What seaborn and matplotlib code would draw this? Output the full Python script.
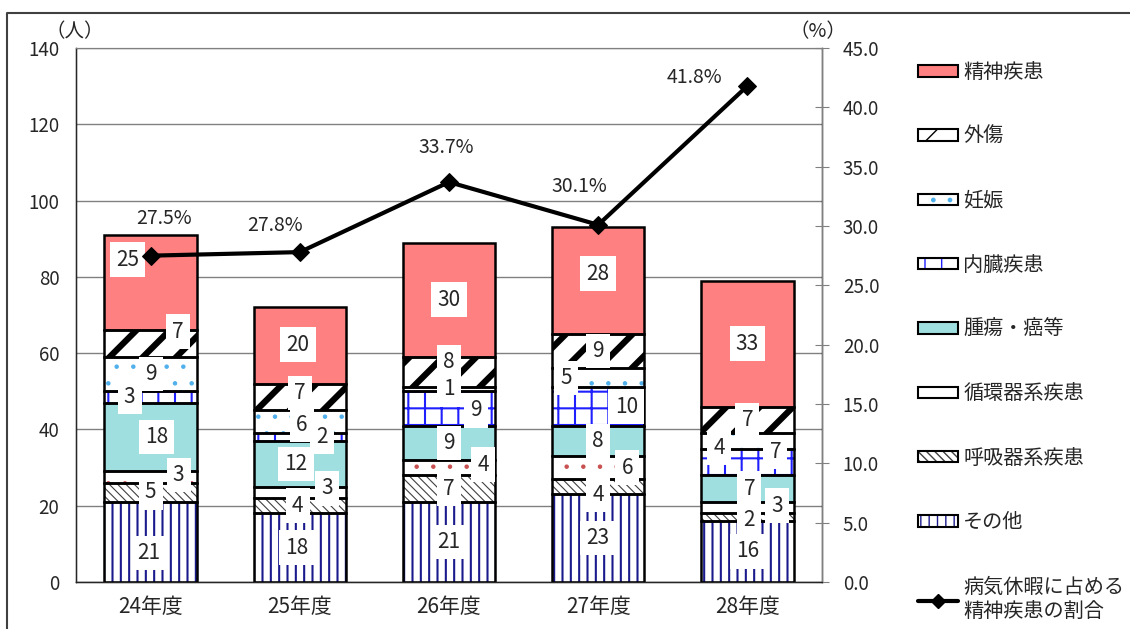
import numpy as np
import matplotlib
matplotlib.use('Agg')
import matplotlib.pyplot as plt
from matplotlib.patches import Patch
from matplotlib.lines import Line2D
from matplotlib.legend_handler import HandlerTuple
import seaborn as sns

# data, segments listed bottom to top
years = ['24年度', '25年度', '26年度', '27年度', '28年度']
categories = ['その他', '呼吸器系疾患', '循環器系疾患', '腫瘍・癌等', '内臓疾患', '妊娠', '外傷', '精神疾患']
sonota = [21, 18, 21, 23, 16]
kokyuki = [5, 4, 7, 4, 2]
junkanki = [3, 3, 4, 6, 3]
shuyo = [18, 12, 9, 8, 7]
naizo = [3, 2, 9, 10, 7]
ninshin = [9, 6, 1, 5, 4]
gaisho = [7, 7, 8, 9, 7]
seishin = [25, 20, 30, 28, 33]
seishin_pct = [27.5, 27.8, 33.7, 30.1, 41.8]
line_label = '病気休暇に占める\n精神疾患の割合'

series = [sonota, kokyuki, junkanki, shuyo, naizo, ninshin, gaisho, seishin]

# face, hatch, hatch colour, hatch width
styles = [
    ('white', '||', '#1a1a8c', 1.5),
    ('white', '\\\\\\\\', '#404040', 0.8),
    ('white', '.', '#c85050', 0.8),
    ('#a0dfdf', None, '#a0dfdf', 1.0),
    ('white', '+', '#1f1fff', 1.5),
    ('white', '.', '#50b0ec', 0.8),
    ('white', '/', 'black', 4.5),
    ('#ff8080', None, '#ff8080', 1.0),
]

# label nudges in pixels (dx right, dy down), per year
label_nudge = [
    [(-2, 11), (0, 0), (28, -2), (6, 0), (-21, 0), (0, 0), (27, -12), (-23, -23)],
    [(-3, 0), (-2, 0), (27, -4), (-4, 0), (22, 0), (2, 3), (0, -4), (-2, -1)],
    [(0, 0), (0, 0), (34, -3), (0, 0), (27, 2), (0, 0), (0, -10), (0, 0)],
    [(0, 0), (0, 8), (29, 0), (0, 0), (28, 0), (-32, 0), (0, 0), (0, -7)],
    [(0, 0), (2, 3), (30, -2), (2, 0), (28, -10), (-28, 7), (0, 0), (0, 0)],
]
pct_nudge = [(13, -37), (-25, -27), (-3, -35), (-19, -38), (-53, -8)]

sns.set_style('white')
plt.rcParams['font.family'] = ['Noto Sans CJK JP', 'DejaVu Sans']

fig = plt.figure(figsize=(11.3, 6.29), dpi=100)
ax = fig.add_axes([76 / 1130, 1 - 582 / 629, (822 - 76) / 1130, (582 - 48) / 629])

bw = 0.62
bottom = np.zeros(len(years))
for vals, (fc, hatch, hc, hlw) in zip(series, styles):
    vals = np.array(vals, dtype=float)
    n0 = len(ax.patches)
    sns.barplot(x=years, y=vals, bottom=bottom, color=fc, saturation=1, width=bw,
                errorbar=None, ax=ax, linewidth=0, edgecolor=hc, hatch=hatch, zorder=2)
    for p in ax.patches[n0:]:
        if hasattr(p, 'set_hatch_linewidth'):
            p.set_hatch_linewidth(hlw)
    sns.barplot(x=years, y=vals, bottom=bottom, fill=False, color='black', linewidth=1.8,
                width=bw, errorbar=None, ax=ax, zorder=3)
    bottom = bottom + vals

# segment labels
bottom = np.zeros(len(years))
for k, vals in enumerate(series):
    for i, v in enumerate(vals):
        dx, dy = label_nudge[i][k]
        ax.annotate(str(v), xy=(i, bottom[i] + v / 2), xytext=(dx, -dy),
                    textcoords='offset pixels', ha='center', va='center', fontsize=15,
                    bbox=dict(boxstyle='square,pad=0.3', fc='white', ec='none'), zorder=5)
    bottom = bottom + np.array(vals)

ax.set_xlim(-0.5, len(years) - 0.5)
ax.set_ylim(0, 140)
ax.set_yticks(np.arange(0, 141, 20))
ax.yaxis.grid(True, color='#808080', linewidth=1)
ax.set_axisbelow(True)
ax.set_xlabel('')
ax.set_ylabel('')
ax.tick_params(axis='y', labelsize=13.5, length=0, pad=12)
ax.tick_params(axis='x', labelsize=15, length=0, pad=10)
ax.set_xticks(np.arange(len(years) - 1) + 0.5, minor=True)
ax.tick_params(axis='x', which='minor', direction='in', length=5, color='#808080')
for s in ['left', 'bottom', 'right']:
    ax.spines[s].set_color('black')
    ax.spines[s].set_linewidth(1)
ax.spines['top'].set_color('#808080')

# percentage line
ax2 = ax.twinx()
sns.lineplot(x=np.arange(len(years)), y=seishin_pct, ax=ax2, color='black', linewidth=3,
             marker='D', markersize=9, markeredgecolor='black', zorder=6)
ax2.set_ylim(0, 45)
ax2.set_yticks(np.arange(0, 45.1, 5))
ax2.set_yticklabels([f'{t:.1f}' for t in np.arange(0, 45.1, 5)])
ax2.tick_params(axis='y', labelsize=13.5, direction='inout', length=10, color='#808080', pad=10)
ax2.set_ylabel('')
ax2.spines['right'].set_color('#808080')
ax2.spines['top'].set_color('#808080')
for i, p in enumerate(seishin_pct):
    dx, dy = pct_nudge[i]
    ax2.annotate(f'{p:.1f}%', xy=(i, p), xytext=(dx, -dy), textcoords='offset pixels',
                 ha='center', va='center', fontsize=14, zorder=7)

fig.text(75 / 1130, 1 - 32 / 629, '（人）', fontsize=14, ha='center', va='center')
fig.text(818 / 1130, 1 - 32 / 629, '（%）', fontsize=14, ha='center', va='center')

# legend, top entry first
handles = []
labels = []
for name, (fc, hatch, hc, hlw) in list(zip(categories, styles))[::-1]:
    hp = Patch(facecolor=fc, edgecolor=hc, hatch=hatch, linewidth=0)
    if hasattr(hp, 'set_hatch_linewidth'):
        hp.set_hatch_linewidth(min(hlw, 2.5))
    op = Patch(facecolor='none', edgecolor='black', linewidth=1.5)
    handles.append((hp, op))
    labels.append(name)
handles.append(Line2D([], [], color='black', linewidth=3, marker='D', markersize=7))
labels.append(line_label)
fig.legend(handles, labels, loc='upper left', bbox_to_anchor=(918 / 1130, 1 - 62 / 629),
           frameon=False, fontsize=14.5, handlelength=2.0, handleheight=0.5,
           handletextpad=0.25, labelspacing=2.15, borderpad=0, borderaxespad=0,
           handler_map={tuple: HandlerTuple(ndivide=1, pad=0)})

# outer chart frame
fig.add_artist(Line2D([7 / 1130, 7 / 1130, 1], [0, 1 - 13 / 629, 1 - 13 / 629],
                      transform=fig.transFigure, color='#404040', linewidth=1.5))

fig.savefig('out.png', dpi=100)
